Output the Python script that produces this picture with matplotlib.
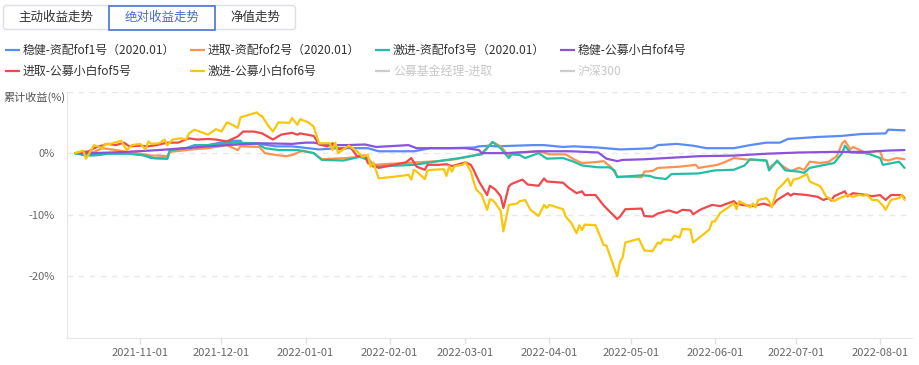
import matplotlib
matplotlib.use("Agg")
import matplotlib.pyplot as plt
from matplotlib.patches import FancyBboxPatch, Rectangle
import pandas as pd

plt.rcParams["font.family"] = ["Noto Sans CJK SC", "DejaVu Sans"]

# ---- data (cumulative return, %) ----
tabs = ["主动收益走势", "绝对收益走势", "净值走势"]
active_tab = 1

series_names = ["稳健-资配fof1号（2020.01）", "进取-资配fof2号（2020.01）",
                "激进-资配fof3号（2020.01）", "稳健-公募小白fof4号",
                "进取-公募小白fof5号", "激进-公募小白fof6号"]
hidden_names = ["公募基金经理-进取", "沪深300"]
series_colors = ["#5B8BF7", "#FF9252", "#22BFA6", "#8B52DC", "#F0484E", "#F8C70C"]

fof1 = [("2021-10-08", 0.0), ("2021-10-12", -0.4), ("2021-10-18", 0.0), ("2021-10-27", 0.0),
        ("2021-11-02", -0.3), ("2021-11-05", -0.8), ("2021-11-11", -0.9), ("2021-11-12", 0.5),
        ("2021-11-20", 0.8), ("2021-11-26", 1.3), ("2021-12-03", 1.9), ("2021-12-05", 2.0),
        ("2021-12-08", 2.0), ("2021-12-09", 1.4), ("2021-12-15", 1.5), ("2021-12-21", 1.1),
        ("2021-12-27", 1.1), ("2022-01-06", 0.6), ("2022-01-13", 0.8), ("2022-01-24", 0.8),
        ("2022-01-28", 0.3), ("2022-02-10", 0.3), ("2022-02-16", 0.8), ("2022-02-22", 0.8),
        ("2022-03-04", 0.9), ("2022-03-06", 1.1), ("2022-03-10", 1.2), ("2022-03-12", 1.1),
        ("2022-03-26", 1.3), ("2022-03-30", 1.3), ("2022-04-06", 1.0), ("2022-04-10", 1.1),
        ("2022-04-19", 0.9), ("2022-04-27", 0.6), ("2022-05-04", 0.7), ("2022-05-09", 0.8),
        ("2022-05-11", 1.3), ("2022-05-18", 1.5), ("2022-05-24", 1.2), ("2022-05-29", 0.8),
        ("2022-06-08", 0.8), ("2022-06-14", 1.3), ("2022-06-20", 1.7), ("2022-06-25", 1.7),
        ("2022-06-28", 2.3), ("2022-07-08", 2.6), ("2022-07-18", 2.8), ("2022-07-25", 3.1),
        ("2022-08-03", 3.2), ("2022-08-04", 3.8), ("2022-08-10", 3.7)]

fof2 = [("2021-10-08", 0.0), ("2021-10-15", 0.2), ("2021-10-18", 0.8), ("2021-10-23", 0.5),
        ("2021-10-27", 0.2), ("2021-11-01", -0.1), ("2021-11-05", -0.4), ("2021-11-08", -0.4),
        ("2021-11-11", -0.5), ("2021-11-12", 0.2), ("2021-11-20", 0.6), ("2021-11-26", 0.8),
        ("2021-12-03", 1.3), ("2021-12-07", 0.5), ("2021-12-08", 1.1), ("2021-12-15", 1.0),
        ("2021-12-17", 0.0), ("2021-12-21", -0.3), ("2021-12-25", -0.5), ("2021-12-27", -0.3),
        ("2021-12-31", 0.4), ("2022-01-04", 0.0), ("2022-01-07", -1.0), ("2022-01-16", -0.8),
        ("2022-01-21", -0.6), ("2022-01-24", -0.8), ("2022-01-26", -1.9), ("2022-02-07", -1.6),
        ("2022-02-19", -1.3), ("2022-02-25", -1.0), ("2022-03-04", -0.4), ("2022-03-07", 0.0),
        ("2022-03-11", 1.8), ("2022-03-14", 1.1), ("2022-03-17", -0.5), ("2022-03-18", 0.0),
        ("2022-03-28", 0.3), ("2022-04-01", -0.2), ("2022-04-07", -0.2), ("2022-04-10", -1.0),
        ("2022-04-13", -1.6), ("2022-04-17", -1.5), ("2022-04-21", -1.3), ("2022-04-24", -2.4),
        ("2022-04-26", -3.8), ("2022-05-05", -3.9), ("2022-05-06", -3.0), ("2022-05-09", -2.9),
        ("2022-05-11", -2.4), ("2022-05-19", -2.2), ("2022-05-25", -1.9), ("2022-05-26", -2.4),
        ("2022-06-02", -1.9), ("2022-06-05", -1.4), ("2022-06-08", -0.8), ("2022-06-14", -1.1),
        ("2022-06-20", -1.2), ("2022-06-21", -2.4), ("2022-06-24", -1.4), ("2022-06-27", -2.4),
        ("2022-06-29", -2.9), ("2022-07-02", -2.4), ("2022-07-04", -2.7), ("2022-07-06", -1.4),
        ("2022-07-10", -1.6), ("2022-07-13", -1.4), ("2022-07-16", -0.5), ("2022-07-18", 1.6),
        ("2022-07-19", 2.0), ("2022-07-21", 0.6), ("2022-07-22", 1.0), ("2022-07-25", 0.4),
        ("2022-07-27", -0.1), ("2022-07-30", 0.3), ("2022-08-01", 0.3), ("2022-08-02", -1.0),
        ("2022-08-04", -1.2), ("2022-08-07", -0.8), ("2022-08-10", -1.0)]

fof3 = [("2021-10-08", 0.0), ("2021-10-14", -0.4), ("2021-10-17", -0.3), ("2021-10-20", -0.1),
        ("2021-10-28", -0.1), ("2021-11-03", -0.4), ("2021-11-06", -0.8), ("2021-11-11", -0.9),
        ("2021-11-12", 0.5), ("2021-11-18", 0.8), ("2021-11-21", 1.3), ("2021-11-26", 1.3),
        ("2021-12-03", 1.6), ("2021-12-06", 1.7), ("2021-12-14", 1.6), ("2021-12-17", 0.8),
        ("2021-12-22", 0.5), ("2021-12-29", 0.5), ("2022-01-04", 0.0), ("2022-01-07", -1.1),
        ("2022-01-15", -1.2), ("2022-01-21", -0.6), ("2022-01-24", -1.1), ("2022-01-26", -2.2),
        ("2022-02-10", -1.9), ("2022-02-19", -1.3), ("2022-02-27", -0.8), ("2022-03-04", -0.4),
        ("2022-03-07", -0.2), ("2022-03-11", 1.8), ("2022-03-14", 0.8), ("2022-03-17", -0.8),
        ("2022-03-18", -0.2), ("2022-03-21", -0.3), ("2022-03-23", -0.8), ("2022-03-28", 0.0),
        ("2022-03-31", -0.9), ("2022-04-06", -0.8), ("2022-04-10", -1.4), ("2022-04-13", -2.0),
        ("2022-04-19", -2.3), ("2022-04-23", -2.3), ("2022-04-25", -2.8), ("2022-04-26", -3.9),
        ("2022-05-05", -3.6), ("2022-05-08", -3.7), ("2022-05-10", -4.0), ("2022-05-14", -4.2),
        ("2022-05-16", -3.4), ("2022-05-26", -3.3), ("2022-06-01", -2.8), ("2022-06-08", -2.7),
        ("2022-06-12", -2.0), ("2022-06-14", -1.0), ("2022-06-20", -1.2), ("2022-06-21", -2.8),
        ("2022-06-24", -1.2), ("2022-06-27", -2.8), ("2022-07-02", -3.0), ("2022-07-04", -3.2),
        ("2022-07-06", -2.4), ("2022-07-15", -1.6), ("2022-07-18", 0.0), ("2022-07-19", 1.2),
        ("2022-07-21", 0.1), ("2022-07-27", 0.0), ("2022-08-01", -0.8), ("2022-08-02", -1.9),
        ("2022-08-08", -1.4), ("2022-08-10", -2.4)]

fof4 = [("2021-10-08", 0.0), ("2021-10-15", 0.0), ("2021-10-27", 0.2), ("2021-11-08", 0.5),
        ("2021-11-20", 0.9), ("2021-12-03", 1.3), ("2021-12-15", 1.6), ("2021-12-27", 1.5),
        ("2022-01-01", 1.7), ("2022-01-04", 1.7), ("2022-01-09", 1.3), ("2022-01-16", 1.3),
        ("2022-01-23", 1.4), ("2022-01-27", 1.0), ("2022-02-08", 1.3), ("2022-02-11", 0.8),
        ("2022-02-23", 0.8), ("2022-03-01", 0.8), ("2022-03-06", 0.5), ("2022-03-07", 0.0),
        ("2022-03-16", 0.0), ("2022-03-28", 0.3), ("2022-04-09", 0.3), ("2022-04-19", 0.1),
        ("2022-04-22", -0.9), ("2022-04-26", -1.3), ("2022-04-28", -1.1), ("2022-05-06", -1.0),
        ("2022-05-14", -0.8), ("2022-05-26", -0.5), ("2022-06-08", -0.4), ("2022-06-20", -0.1),
        ("2022-07-02", 0.1), ("2022-07-15", 0.2), ("2022-07-27", 0.2), ("2022-08-03", 0.4),
        ("2022-08-10", 0.5)]

fof5 = [("2021-10-08", 0.0), ("2021-10-13", 0.3), ("2021-10-15", 0.8), ("2021-10-17", 1.1),
        ("2021-10-20", 1.5), ("2021-10-23", 1.3), ("2021-10-26", 1.7), ("2021-10-28", 1.1),
        ("2021-11-01", 1.2), ("2021-11-04", 1.1), ("2021-11-07", 1.3), ("2021-11-11", 1.7),
        ("2021-11-15", 1.7), ("2021-11-19", 2.4), ("2021-11-22", 2.2), ("2021-11-26", 2.3),
        ("2021-11-29", 2.2), ("2021-12-03", 1.9), ("2021-12-07", 2.7), ("2021-12-09", 3.5),
        ("2021-12-13", 3.5), ("2021-12-16", 3.2), ("2021-12-20", 2.2), ("2021-12-23", 3.0),
        ("2021-12-27", 3.3), ("2021-12-29", 3.0), ("2021-12-30", 3.2), ("2022-01-04", 2.8),
        ("2022-01-06", 1.4), ("2022-01-09", 1.1), ("2022-01-11", 1.6), ("2022-01-13", 0.6),
        ("2022-01-16", 0.8), ("2022-01-17", 1.3), ("2022-01-20", -0.5), ("2022-01-23", -0.4),
        ("2022-01-24", -1.6), ("2022-01-28", -2.4), ("2022-02-07", -1.5), ("2022-02-09", -0.8),
        ("2022-02-11", -2.2), ("2022-02-14", -2.7), ("2022-02-15", -1.9), ("2022-02-19", -1.9),
        ("2022-02-22", -1.8), ("2022-02-24", -2.1), ("2022-03-01", -1.5), ("2022-03-03", -1.9),
        ("2022-03-04", -2.7), ("2022-03-06", -4.6), ("2022-03-09", -6.8), ("2022-03-10", -5.3),
        ("2022-03-12", -5.9), ("2022-03-14", -7.0), ("2022-03-15", -8.9), ("2022-03-17", -5.4),
        ("2022-03-18", -5.0), ("2022-03-22", -4.3), ("2022-03-24", -5.1), ("2022-03-28", -5.3),
        ("2022-03-30", -4.1), ("2022-03-31", -4.6), ("2022-04-06", -4.8), ("2022-04-08", -5.6),
        ("2022-04-11", -6.5), ("2022-04-13", -6.2), ("2022-04-14", -6.8), ("2022-04-18", -6.8),
        ("2022-04-21", -8.5), ("2022-04-26", -10.7), ("2022-04-27", -10.3), ("2022-04-29", -9.1),
        ("2022-05-05", -9.0), ("2022-05-06", -10.2), ("2022-05-09", -10.3), ("2022-05-11", -9.8),
        ("2022-05-15", -9.3), ("2022-05-18", -9.7), ("2022-05-20", -9.2), ("2022-05-23", -9.3),
        ("2022-05-24", -9.9), ("2022-05-27", -9.1), ("2022-05-31", -8.4), ("2022-06-03", -8.6),
        ("2022-06-08", -7.8), ("2022-06-09", -8.2), ("2022-06-11", -8.4), ("2022-06-15", -8.6),
        ("2022-06-19", -8.2), ("2022-06-22", -8.6), ("2022-06-24", -7.6), ("2022-06-28", -6.5),
        ("2022-06-29", -6.9), ("2022-06-30", -6.6), ("2022-07-05", -6.8), ("2022-07-09", -7.1),
        ("2022-07-11", -7.6), ("2022-07-13", -7.3), ("2022-07-14", -7.7), ("2022-07-15", -7.0),
        ("2022-07-19", -6.2), ("2022-07-20", -7.0), ("2022-07-22", -6.5), ("2022-07-27", -6.8),
        ("2022-07-29", -7.0), ("2022-08-01", -6.8), ("2022-08-03", -7.6), ("2022-08-05", -6.8),
        ("2022-08-09", -6.8), ("2022-08-10", -7.3)]

fof6 = [("2021-10-08", 0.0), ("2021-10-11", 0.4), ("2021-10-12", -0.9), ("2021-10-15", 1.3),
        ("2021-10-18", 0.8), ("2021-10-19", 1.5), ("2021-10-21", 1.5), ("2021-10-25", 2.0),
        ("2021-10-27", 0.5), ("2021-10-29", 1.3), ("2021-11-01", 1.5), ("2021-11-03", 0.6),
        ("2021-11-04", 1.9), ("2021-11-05", 1.5), ("2021-11-08", 1.6), ("2021-11-10", 2.2),
        ("2021-11-11", 1.3), ("2021-11-13", 2.2), ("2021-11-16", 2.4), ("2021-11-18", 2.2),
        ("2021-11-19", 3.2), ("2021-11-21", 3.8), ("2021-11-23", 3.5), ("2021-11-26", 3.0),
        ("2021-11-29", 3.9), ("2021-12-01", 3.5), ("2021-12-03", 5.0), ("2021-12-05", 4.6),
        ("2021-12-07", 4.1), ("2021-12-08", 5.8), ("2021-12-11", 6.2), ("2021-12-14", 6.6),
        ("2021-12-15", 6.2), ("2021-12-16", 6.0), ("2021-12-18", 4.6), ("2021-12-20", 3.5),
        ("2021-12-22", 5.0), ("2021-12-26", 4.9), ("2021-12-27", 5.7), ("2021-12-29", 4.6),
        ("2021-12-30", 5.5), ("2022-01-02", 5.0), ("2022-01-04", 4.3), ("2022-01-06", 1.6),
        ("2022-01-09", 1.6), ("2022-01-10", 1.6), ("2022-01-11", 0.5), ("2022-01-12", 1.7),
        ("2022-01-13", 0.0), ("2022-01-17", 1.2), ("2022-01-20", 0.3), ("2022-01-22", -0.6),
        ("2022-01-24", -0.3), ("2022-01-25", -2.2), ("2022-01-26", -1.5), ("2022-01-28", -4.1),
        ("2022-02-07", -3.6), ("2022-02-08", -3.5), ("2022-02-09", -4.3), ("2022-02-10", -2.7),
        ("2022-02-11", -3.0), ("2022-02-14", -4.2), ("2022-02-15", -2.8), ("2022-02-17", -2.7),
        ("2022-02-21", -2.6), ("2022-02-22", -3.7), ("2022-02-23", -2.1), ("2022-02-24", -3.0),
        ("2022-02-25", -2.1), ("2022-02-28", -1.9), ("2022-03-01", -1.5), ("2022-03-02", -2.2),
        ("2022-03-03", -3.0), ("2022-03-04", -4.6), ("2022-03-05", -5.9), ("2022-03-07", -6.8),
        ("2022-03-09", -9.2), ("2022-03-10", -7.5), ("2022-03-11", -7.6), ("2022-03-12", -8.1),
        ("2022-03-14", -9.4), ("2022-03-15", -12.7), ("2022-03-17", -8.4), ("2022-03-20", -8.2),
        ("2022-03-21", -7.8), ("2022-03-23", -7.6), ("2022-03-25", -9.2), ("2022-03-28", -10.2),
        ("2022-03-30", -8.4), ("2022-03-31", -8.9), ("2022-04-01", -8.4), ("2022-04-06", -9.1),
        ("2022-04-07", -10.3), ("2022-04-09", -11.3), ("2022-04-11", -13.0), ("2022-04-12", -11.7),
        ("2022-04-13", -12.5), ("2022-04-14", -11.6), ("2022-04-18", -11.7), ("2022-04-21", -14.9),
        ("2022-04-22", -15.0), ("2022-04-24", -17.5), ("2022-04-26", -20.0), ("2022-04-27", -17.7),
        ("2022-04-28", -16.9), ("2022-04-29", -14.5), ("2022-05-04", -13.9), ("2022-05-06", -15.8),
        ("2022-05-09", -15.9), ("2022-05-11", -14.5), ("2022-05-12", -14.7), ("2022-05-13", -14.0),
        ("2022-05-16", -14.1), ("2022-05-17", -13.4), ("2022-05-19", -13.7), ("2022-05-20", -12.3),
        ("2022-05-23", -12.4), ("2022-05-24", -14.5), ("2022-05-26", -13.8), ("2022-05-30", -12.4),
        ("2022-05-31", -11.1), ("2022-06-01", -11.1), ("2022-06-03", -9.7), ("2022-06-06", -8.8),
        ("2022-06-08", -8.1), ("2022-06-09", -9.1), ("2022-06-10", -7.8), ("2022-06-13", -8.5),
        ("2022-06-14", -8.8), ("2022-06-15", -8.2), ("2022-06-16", -8.8), ("2022-06-17", -7.6),
        ("2022-06-20", -7.3), ("2022-06-21", -7.8), ("2022-06-22", -8.8), ("2022-06-24", -5.9),
        ("2022-06-26", -5.1), ("2022-06-28", -4.1), ("2022-06-29", -5.3), ("2022-06-30", -4.3),
        ("2022-07-02", -4.1), ("2022-07-05", -3.4), ("2022-07-06", -4.6), ("2022-07-10", -5.4),
        ("2022-07-12", -7.0), ("2022-07-15", -7.8), ("2022-07-17", -7.3), ("2022-07-20", -6.8),
        ("2022-07-22", -7.1), ("2022-07-24", -6.8), ("2022-07-26", -6.9), ("2022-07-27", -6.7),
        ("2022-07-29", -7.6), ("2022-07-31", -7.6), ("2022-08-02", -8.5), ("2022-08-03", -9.2),
        ("2022-08-05", -7.6), ("2022-08-08", -7.3), ("2022-08-09", -6.8), ("2022-08-10", -7.6)]

series_data = [fof1, fof2, fof3, fof4, fof5, fof6]

grid_values = [10, 0, -10, -20]
grid_labels = ["", "0%", "-10%", "-20%"]
month_ticks = pd.date_range("2021-11-01", "2022-08-01", freq="MS")

# ---- figure ----
W, H = 919, 365
fig = plt.figure(figsize=(W / 100, H / 100), dpi=100)
ax = fig.add_axes([67 / W, 27 / H, 845 / W, 246.5 / H])

for data, color in zip(series_data, series_colors):
    d = pd.to_datetime([p[0] for p in data])
    v = [p[1] for p in data]
    ax.plot(d, v, color=color, lw=1.6, solid_joinstyle="round", solid_capstyle="round")

ax.set_ylim(-30, 10)
ax.set_xlim(pd.Timestamp("2021-10-05"), pd.Timestamp("2022-08-12 18:00"))
ax.set_yticks(grid_values, labels=grid_labels)
ax.set_xticks(month_ticks, labels=[t.strftime("%Y-%m-%d") for t in month_ticks])
ax.grid(axis="y", color="#e8e8e8", linestyle=(0, (4, 4)), lw=1)
ax.tick_params(axis="y", length=0, pad=9, labelsize=8, labelcolor="#666666")
ax.tick_params(axis="x", length=4, width=1, color="#dde2ea", pad=3,
               labelsize=8, labelcolor="#666666")
for s in ["top", "right"]:
    ax.spines[s].set_visible(False)
for s in ["left", "bottom"]:
    ax.spines[s].set_color("#e6e6e6")

# overlay in pixel coordinates for tabs, legend and axis name
ov = fig.add_axes([0, 0, 1, 1])
ov.set_xlim(0, W)
ov.set_ylim(H, 0)
ov.axis("off")

ov.add_patch(FancyBboxPatch((3.5, 5.5), 292, 24, boxstyle="round,pad=0,rounding_size=3",
                            fc="white", ec="#dcdfe6", lw=1))
tab_edges = [3.5, 108.5, 215, 295.5]
for i, name in enumerate(tabs):
    x0, x1 = tab_edges[i], tab_edges[i + 1]
    if i == active_tab:
        ov.add_patch(Rectangle((x0, 5.5), x1 - x0, 24, fc="white", ec="#4a70d9", lw=1.2))
        col = "#4a6ad6"
    else:
        col = "#333333"
    ov.text((x0 + x1) / 2, 17.5, name, ha="center", va="center", fontsize=9, color=col)

legend_cols = [5, 190, 375, 560]
legend_rows = [50, 71]
entries = list(zip(series_names, series_colors, [True] * 6)) + \
          [(n, "#cccccc", False) for n in hidden_names]
for k, (name, col, on) in enumerate(entries):
    x = legend_cols[k % 4]
    y = legend_rows[k // 4]
    ov.plot([x, x + 15], [y, y], color=col, lw=1.6, solid_capstyle="butt")
    ov.text(x + 18, y, name, ha="left", va="center", fontsize=8.6,
            color="#333333" if on else "#c8c8c8")

ov.text(3, 97, "累计收益(%)", ha="left", va="center", fontsize=8, color="#555555")

fig.savefig("out.png", dpi=100, facecolor="white")
